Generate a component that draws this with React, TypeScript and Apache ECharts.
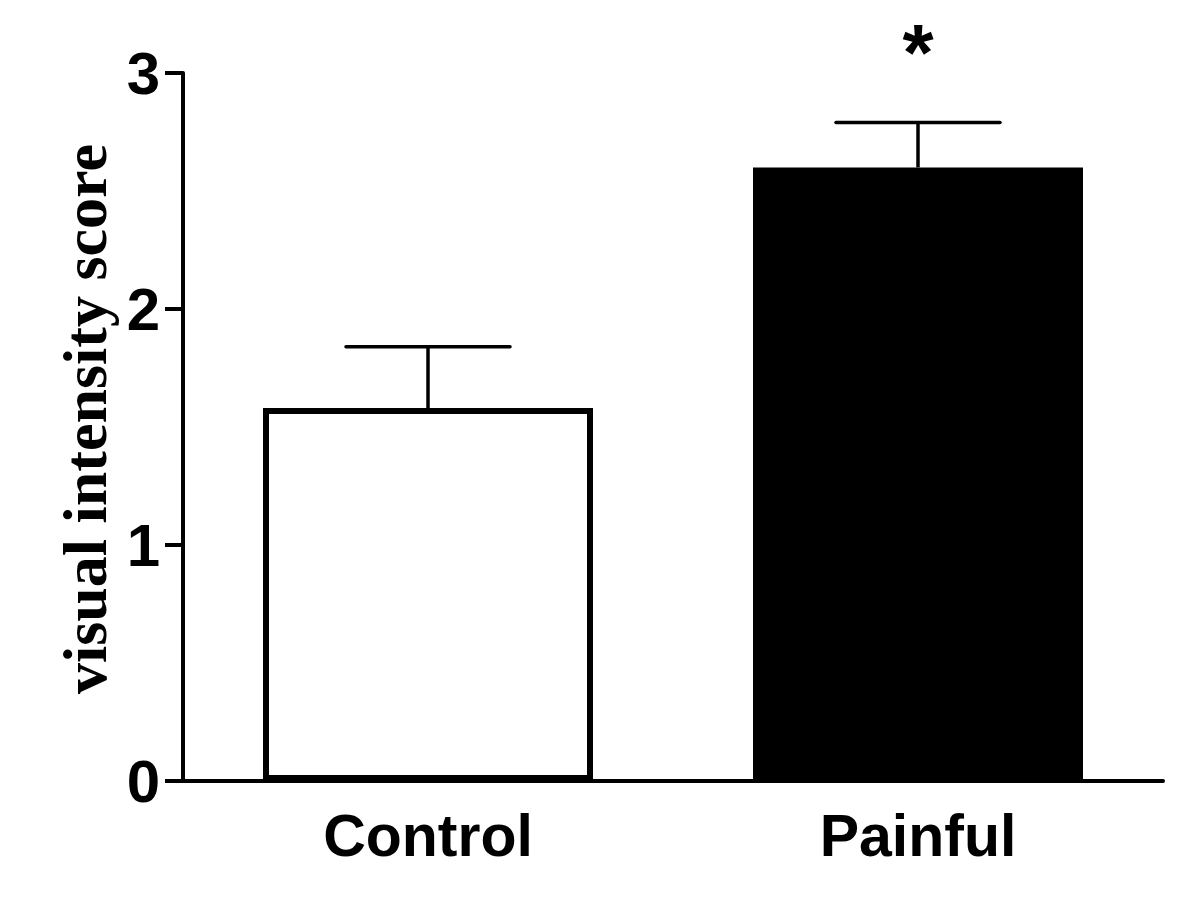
import React, { useEffect, useRef } from "react";
import * as echarts from "echarts";

const categories = ["Control", "Painful"];
const means = [1.58, 2.6];
const errors = [0.26, 0.19];
const significance = ["", "*"];
const barColors = ["#ffffff", "#000000"];
const yTicks = [0, 1, 2, 3];

export default function App() {
  const ref = useRef<HTMLDivElement>(null);
  useEffect(() => {
    if (!ref.current) return;
    const chart = echarts.init(ref.current, null, { renderer: "svg" });
    const option = {
      animation: false,
      backgroundColor: "#ffffff",
      grid: { left: 183, right: 37, top: 73, bottom: 119 },
      xAxis: {
        type: "category",
        data: categories,
        axisLine: { lineStyle: { color: "#000", width: 4 } },
        axisTick: { show: false },
        axisLabel: {
          color: "#000",
          fontFamily: "'Liberation Sans', Arial, sans-serif",
          fontWeight: "bold",
          fontSize: 59,
          margin: 25,
        },
      },
      yAxis: {
        type: "value",
        min: yTicks[0],
        max: yTicks[yTicks.length - 1],
        interval: 1,
        name: "visual intensity score",
        nameLocation: "middle",
        nameGap: 61,
        nameTextStyle: {
          color: "#000",
          fontFamily: "'Liberation Serif', 'Times New Roman', serif",
          fontWeight: "bold",
          fontSize: 62,
          padding: [0, 0, 0, 16],
        },
        splitLine: { show: false },
        axisLine: { show: true, lineStyle: { color: "#000", width: 4 } },
        axisTick: { show: true, length: 18, lineStyle: { color: "#000", width: 4 } },
        axisLabel: {
          color: "#000",
          fontFamily: "'Liberation Sans', Arial, sans-serif",
          fontWeight: "bold",
          fontSize: 60,
          margin: 23,
        },
      },
      series: [
        {
          type: "bar",
          barWidth: 330,
          data: means.map((v, i) => ({
            value: v,
            itemStyle: { color: barColors[i], borderColor: "#000", borderWidth: 6 },
          })),
          z: 2,
        },
        {
          type: "custom",
          z: 3,
          data: means.map((v, i) => [i, v, v + errors[i], significance[i]]),
          renderItem: (params: any, api: any) => {
            const x = api.value(0);
            const base = api.coord([x, api.value(1)]);
            const top = api.coord([x, api.value(2)]);
            const half = 82;
            const sig = significance[params.dataIndex];
            const children: any[] = [
              {
                type: "line",
                shape: { x1: base[0], y1: base[1], x2: top[0], y2: top[1] },
                style: { stroke: "#000", lineWidth: 3.5 },
              },
              {
                type: "line",
                shape: { x1: top[0] - half, y1: top[1], x2: top[0] + half, y2: top[1] },
                style: { stroke: "#000", lineWidth: 3.5, lineCap: "round" },
              },
            ];
            if (sig) {
              children.push({
                type: "text",
                x: top[0],
                y: top[1] - 70,
                style: {
                  text: sig,
                  fill: "#000",
                  font: "bold 80px 'Liberation Sans', Arial, sans-serif",
                  align: "center",
                  verticalAlign: "middle",
                },
              });
            }
            return { type: "group", children };
          },
        },
      ],
    };
    chart.setOption(option as any);
    return () => chart.dispose();
  }, []);
  return (
    <div
      ref={ref}
      style={{ position: "absolute", left: 0, top: 0, width: 1200, height: 900 }}
    />
  );
}
